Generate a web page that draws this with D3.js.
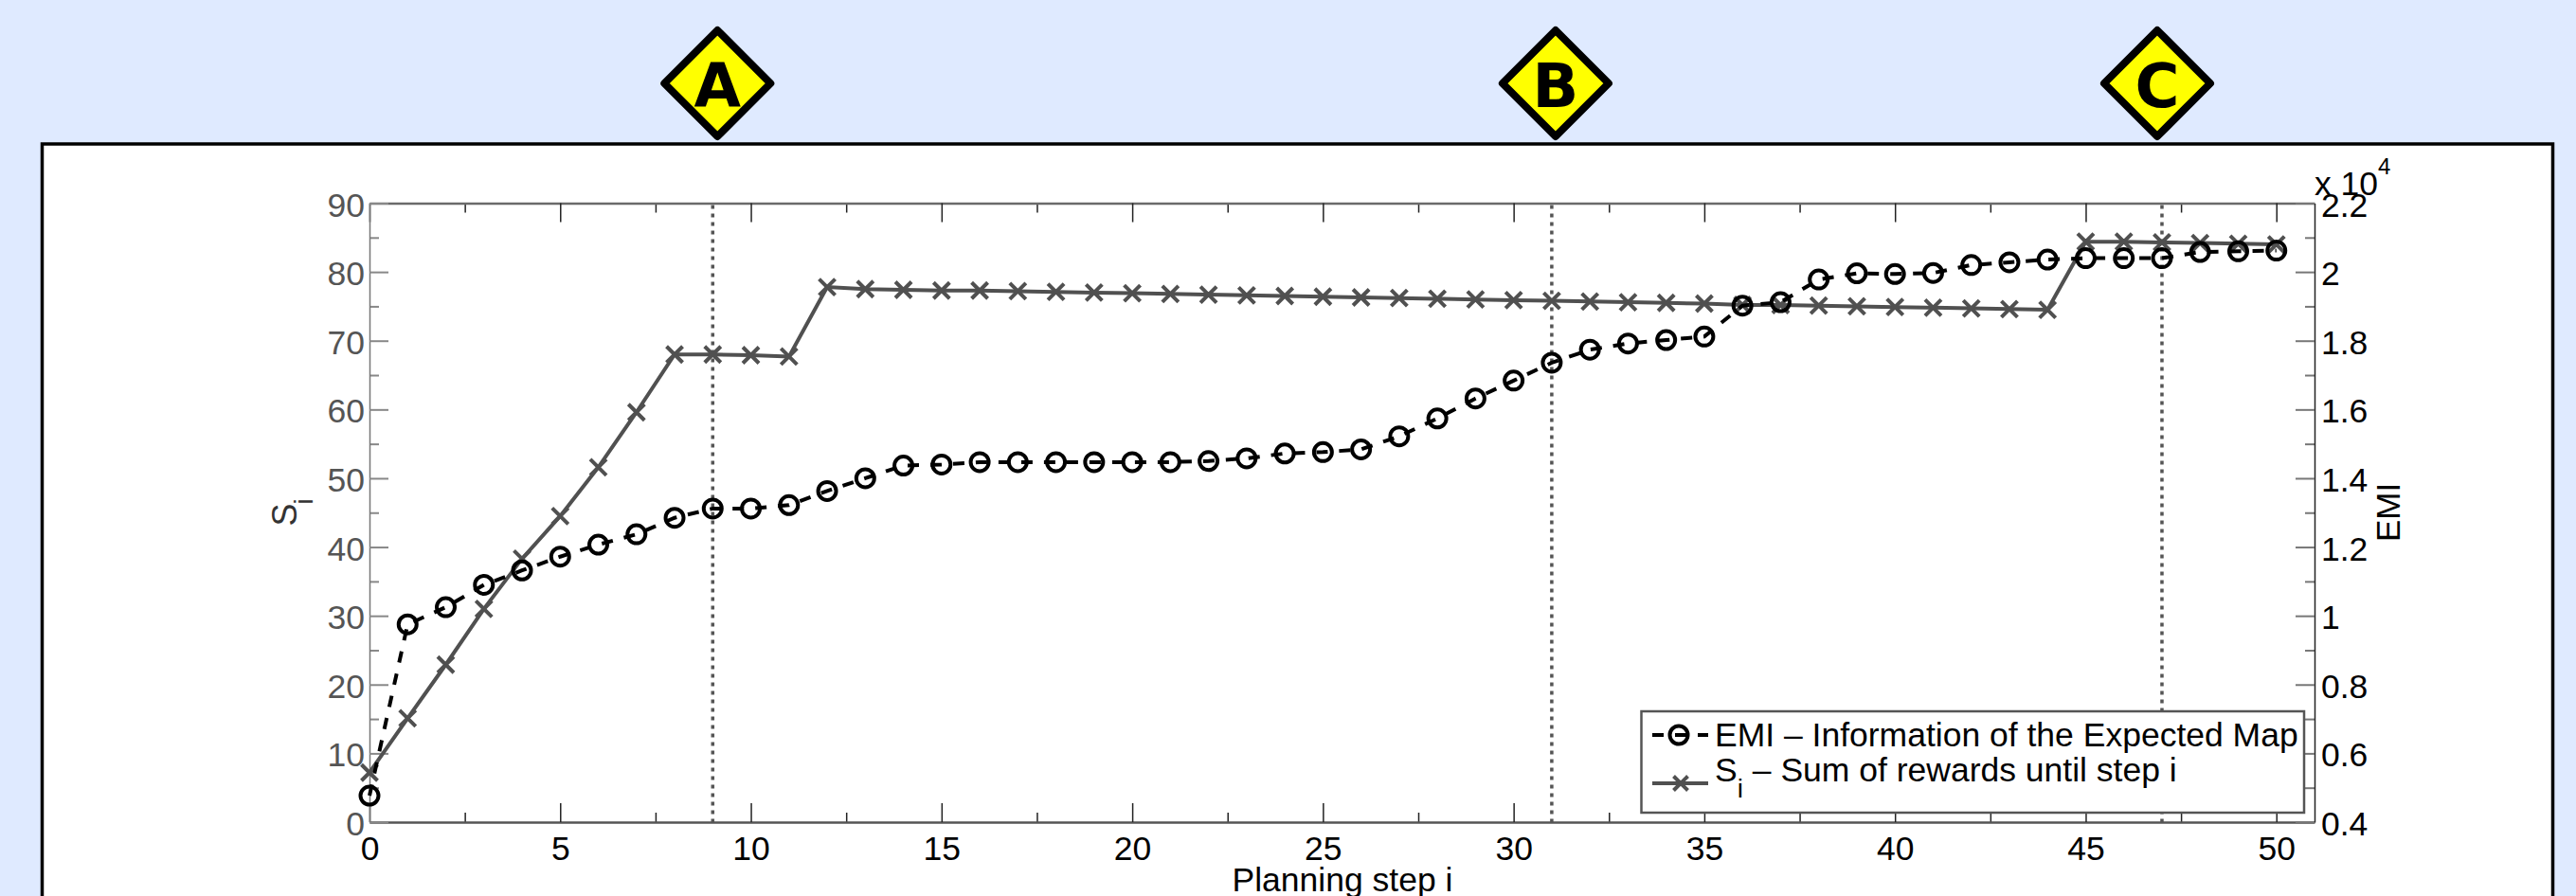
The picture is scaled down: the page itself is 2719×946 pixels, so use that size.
<!DOCTYPE html>
<html>
<head>
<meta charset="utf-8">
<script src="https://cdn.jsdelivr.net/npm/d3@7"></script>
<style>
    html, body { margin: 0; padding: 0; background: #dfeaff; overflow: hidden; }
    svg { display: block; }
    text { font-family: "Liberation Sans", Arial, sans-serif; }
</style>
</head>
<body>
<script>
// chart values
const steps = d3.range(0, 51);
const sumRewards = [7.2, 15.1, 22.9, 31.0, 38.3, 44.5, 51.6, 59.6, 68.0, 68.0,
    67.9, 67.7, 77.8, 77.5, 77.4, 77.3, 77.3, 77.2, 77.1, 77.0,
    76.9, 76.8, 76.7, 76.6, 76.5, 76.4, 76.3, 76.2, 76.1, 76.0,
    75.9, 75.8, 75.7, 75.6, 75.5, 75.4, 75.2, 75.2, 75.1, 75.0,
    74.9, 74.8, 74.7, 74.6, 74.5, 84.4, 84.4, 84.3, 84.2, 84.1, 84.0];
// EMI in units of 10^4
const emiValues = [0.477, 0.975, 1.025, 1.09, 1.132, 1.172, 1.207, 1.237, 1.285, 1.312,
    1.312, 1.322, 1.363, 1.40, 1.437, 1.44, 1.447, 1.447, 1.447, 1.447,
    1.447, 1.447, 1.45, 1.458, 1.472, 1.476, 1.484, 1.522, 1.574, 1.632,
    1.684, 1.736, 1.774, 1.792, 1.802, 1.812, 1.902, 1.912, 1.978, 1.996,
    1.994, 1.997, 2.02, 2.028, 2.036, 2.04, 2.04, 2.04, 2.058, 2.06, 2.062];
const xMajorTicks = [0, 5, 10, 15, 20, 25, 30, 35, 40, 45, 50];
const xMinorTicks = [2.5, 7.5, 12.5, 17.5, 22.5, 27.5, 32.5, 37.5, 42.5, 47.5];
const leftMajorTicks = [0, 10, 20, 30, 40, 50, 60, 70, 80, 90];
const leftMinorTicks = [5, 15, 25, 35, 45, 55, 65, 75, 85];
const rightMajorTicks = [0.4, 0.6, 0.8, 1, 1.2, 1.4, 1.6, 1.8, 2, 2.2];
const rightMinorTicks = [0.5, 0.7, 0.9, 1.1, 1.3, 1.5, 1.7, 1.9, 2.1];
const markedSteps = [9, 31, 47];
const badgeLetters = ['A', 'B', 'C'];
const badgeOffsets = [5, 4, -5];
const legendLabels = ['EMI \u2013 Information of the Expected Map', ' \u2013 Sum of rewards until step i'];

const width = 2719, height = 946;
const plot = {left: 390, right: 2443, top: 214.5, bottom: 868};
const grayLine = '#505050';

const svg = d3.select('body').append('svg')
    .attr('width', width)
    .attr('height', height);

// white panel with black frame, runs off the bottom of the picture
svg.append('rect')
    .attr('x', 44.5).attr('y', 152)
    .attr('width', 2650).attr('height', 860)
    .attr('fill', '#fff').attr('stroke', '#000').attr('stroke-width', 3.5);

const x = d3.scaleLinear().domain([0, 51]).range([plot.left, plot.right]);
const yLeft = d3.scaleLinear().domain([0, 90]).range([plot.bottom, plot.top]);
const yRight = d3.scaleLinear().domain([0.4, 2.2]).range([plot.bottom, plot.top]);

/**
 * Draw one axis: major ticks with labels, minor ticks without
 */
const drawAxis = (axisFn, scale, major, minor, pos, opts) => {
    const g = svg.append('g').attr('transform', pos);
    g.call(axisFn(scale).tickValues(minor).tickSize(-10).tickSizeOuter(0).tickFormat(''));
    g.select('.domain').remove();
    g.selectAll('line').attr('stroke', opts.tickColor).attr('stroke-width', opts.tickWidth);

    const m = svg.append('g').attr('transform', pos);
    m.call(axisFn(scale).tickValues(major).tickSize(-20).tickSizeOuter(0)
        .tickPadding(opts.padding).tickFormat(opts.labels ? d => d : ''));
    m.select('.domain').attr('stroke', opts.domainColor).attr('stroke-width', opts.domainWidth);
    m.selectAll('line').attr('stroke', opts.tickColor).attr('stroke-width', opts.tickWidth);
    m.selectAll('text')
        .attr('font-size', 35.5)
        .attr('font-family', '"Liberation Sans", Arial, sans-serif')
        .attr('fill', opts.textColor);
    return m;
};

drawAxis(d3.axisTop, x, xMajorTicks, xMinorTicks, `translate(0,${plot.top})`,
    {tickColor: '#222', tickWidth: 1.5, domainColor: '#6a6a6a', domainWidth: 2.5, labels: false, padding: 0});
// top axis ticks point down into the plot, same for the others
drawAxis(d3.axisBottom, x, xMajorTicks, xMinorTicks, `translate(0,${plot.bottom})`,
    {tickColor: '#222', tickWidth: 1.5, domainColor: '#555', domainWidth: 2.5, labels: true, padding: 14, textColor: '#000'})
    .selectAll('text').attr('dy', '0.72em');
drawAxis(d3.axisLeft, yLeft, leftMajorTicks, leftMinorTicks, `translate(${plot.left},0)`,
    {tickColor: '#888', tickWidth: 2, domainColor: '#777', domainWidth: 1.5, labels: true, padding: 5, textColor: '#555'})
    .selectAll('text').attr('dy', '0.38em');
drawAxis(d3.axisRight, yRight, rightMajorTicks, rightMinorTicks, `translate(${plot.right},0)`,
    {tickColor: '#777', tickWidth: 2, domainColor: '#222', domainWidth: 1.5, labels: true, padding: 7, textColor: '#000'})
    .selectAll('text').attr('dy', '0.38em');

// dotted markers for A, B, C
svg.append('g').selectAll('line')
    .data(markedSteps)
    .enter()
    .append('line')
    .attr('x1', d => x(d)).attr('x2', d => x(d))
    .attr('y1', plot.top + 2).attr('y2', plot.bottom)
    .attr('stroke', '#555').attr('stroke-width', 3.5)
    .attr('stroke-dasharray', '4 5');

// badges above the panel
const badges = svg.append('g').selectAll('g')
    .data(markedSteps)
    .enter()
    .append('g')
    .attr('transform', (d, i) => `translate(${x(d) + badgeOffsets[i]},88)`);
badges.append('path')
    .attr('d', d3.line()([[0, -56], [56, 0], [0, 56], [-56, 0]]) + 'Z')
    .attr('fill', '#ffff00').attr('stroke', '#000').attr('stroke-width', 8)
    .attr('stroke-linejoin', 'round');
badges.append('text')
    .attr('text-anchor', 'middle').attr('y', 25)
    .attr('font-size', 64).attr('font-weight', 'bold')
    .style('font-family', '"DejaVu Sans", sans-serif')
    .text((d, i) => badgeLetters[i]);

const crossPath = (cx, cy, s) => `M${cx - s},${cy - s}L${cx + s},${cy + s}M${cx - s},${cy + s}L${cx + s},${cy - s}`;

// S_i series, left axis
const lineS = d3.line().x((d, i) => x(steps[i])).y(d => yLeft(d));
svg.append('path')
    .attr('d', lineS(sumRewards))
    .attr('fill', 'none').attr('stroke', grayLine).attr('stroke-width', 4);
svg.append('path')
    .attr('d', sumRewards.map((d, i) => crossPath(x(steps[i]), yLeft(d), 8.5)).join(''))
    .attr('fill', 'none').attr('stroke', grayLine).attr('stroke-width', 4);

// EMI series, right axis
const lineE = d3.line().x((d, i) => x(steps[i])).y(d => yRight(d));
svg.append('path')
    .attr('d', lineE(emiValues))
    .attr('fill', 'none').attr('stroke', '#000').attr('stroke-width', 4)
    .attr('stroke-dasharray', '12 12');
svg.append('g').selectAll('circle')
    .data(emiValues)
    .enter()
    .append('circle')
    .attr('cx', (d, i) => x(steps[i]))
    .attr('cy', d => yRight(d))
    .attr('r', 9.5)
    .attr('fill', 'none').attr('stroke', '#000').attr('stroke-width', 4);

// axis titles
svg.append('text')
    .attr('x', 1417).attr('y', 941)
    .attr('text-anchor', 'middle').attr('font-size', 35.5)
    .text('Planning step i');
svg.append('text')
    .attr('text-anchor', 'middle').attr('font-size', 35)
    .attr('transform', 'translate(2532.5,541) rotate(-90)')
    .text('EMI');
const yTitle = svg.append('text')
    .attr('font-size', 36).attr('fill', '#333')
    .attr('transform', 'translate(313,555.5) rotate(-90)');
yTitle.append('tspan').text('S');
yTitle.append('tspan').attr('font-size', 28).attr('dx', -1).attr('dy', 17).text('i');

// x 10^4 exponent
const exponent = svg.append('text').attr('x', 2443).attr('y', 206).attr('font-size', 35.5);
exponent.append('tspan').text('x 10');
exponent.append('tspan').attr('font-size', 24).attr('dy', -22).text('4');

// legend
const legend = svg.append('g');
legend.append('rect')
    .attr('x', 1732.5).attr('y', 751).attr('width', 699.5).attr('height', 107)
    .attr('fill', '#fff').attr('stroke', '#555').attr('stroke-width', 2.5);
legend.append('line')
    .attr('x1', 1744).attr('x2', 1803).attr('y1', 776).attr('y2', 776)
    .attr('stroke', '#000').attr('stroke-width', 4).attr('stroke-dasharray', '12 12');
legend.append('circle')
    .attr('cx', 1772).attr('cy', 776).attr('r', 9.5)
    .attr('fill', 'none').attr('stroke', '#000').attr('stroke-width', 4);
legend.append('line')
    .attr('x1', 1744).attr('x2', 1803).attr('y1', 827).attr('y2', 827)
    .attr('stroke', grayLine).attr('stroke-width', 4);
legend.append('path')
    .attr('d', crossPath(1774, 827, 7.5))
    .attr('fill', 'none').attr('stroke', grayLine).attr('stroke-width', 4);
legend.append('text')
    .attr('x', 1810).attr('y', 788).attr('font-size', 35.5)
    .text(legendLabels[0]);
const legendS = legend.append('text').attr('x', 1810).attr('y', 825).attr('font-size', 35.5);
legendS.append('tspan').text('S');
legendS.append('tspan').attr('font-size', 28).attr('dy', 17).text('i');
legendS.append('tspan').attr('dy', -17).text(legendLabels[1]);
</script>
</body>
</html>
